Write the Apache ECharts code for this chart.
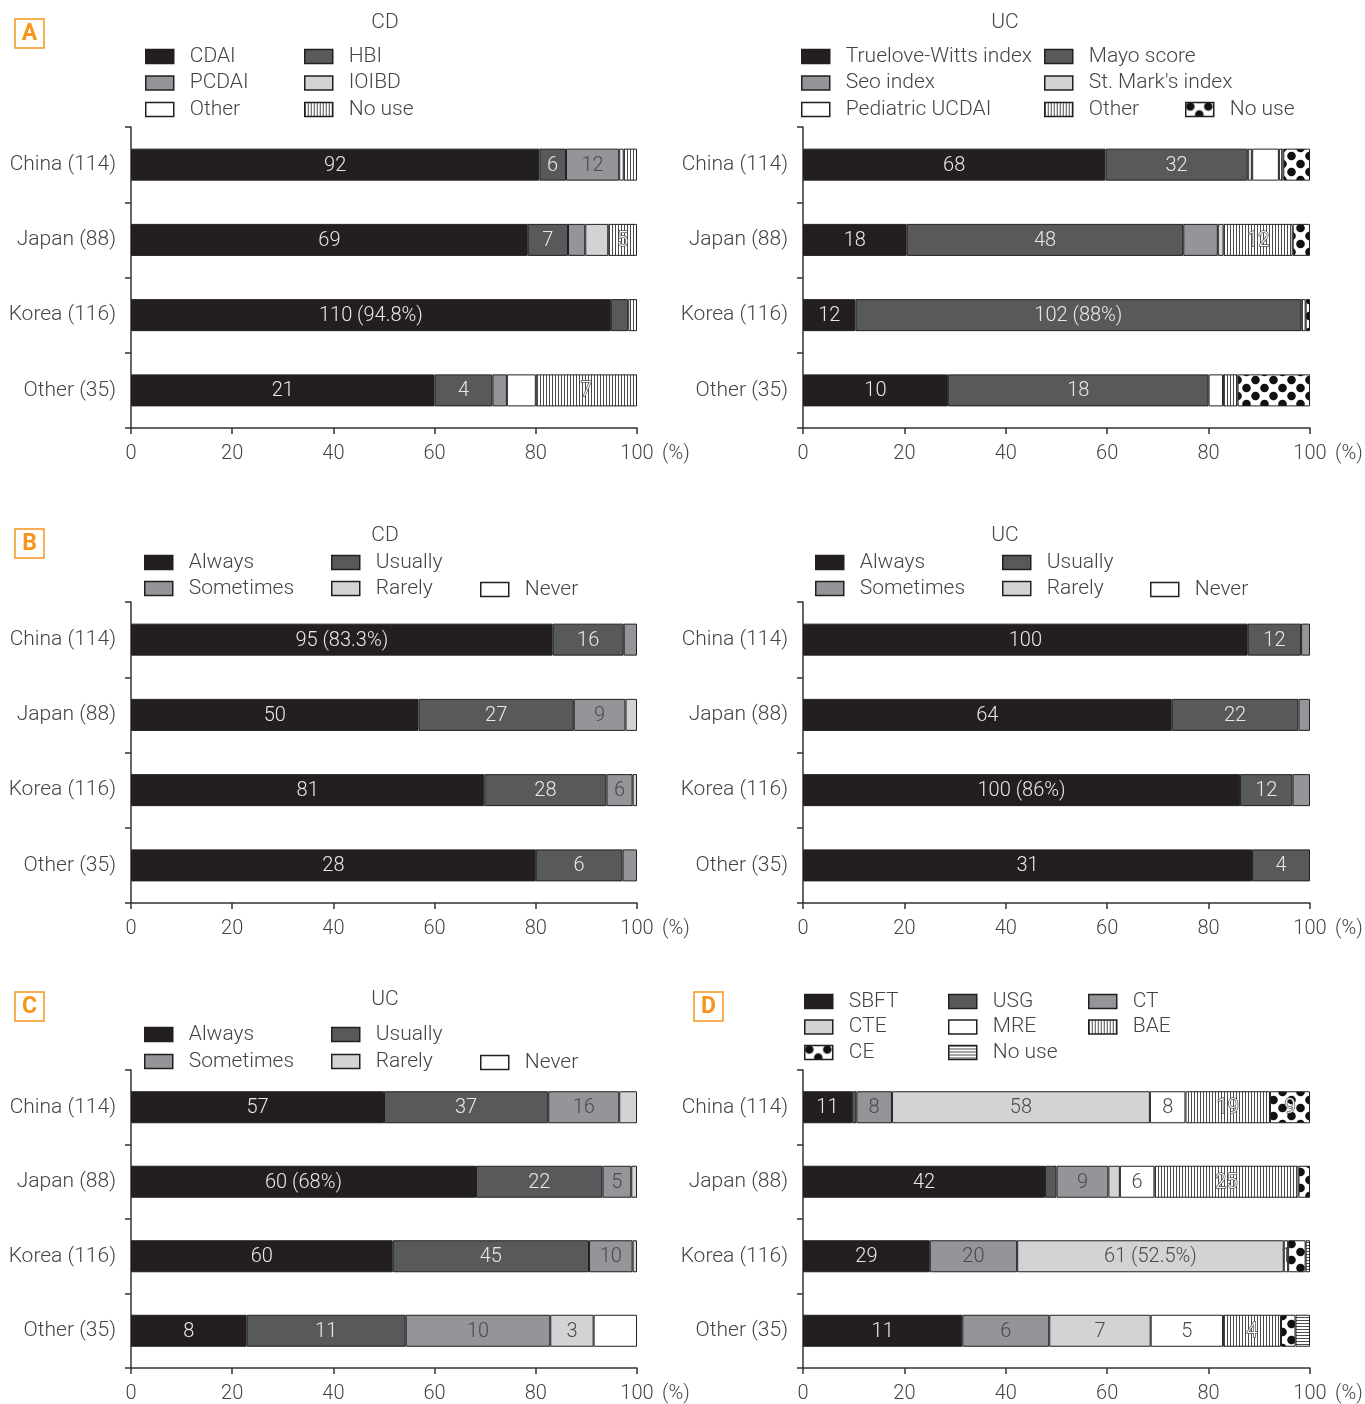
<!DOCTYPE html>
<html><head><meta charset="utf-8">
<script src="https://cdn.jsdelivr.net/npm/echarts@6/dist/echarts.min.js"></script>
<style>html,body{margin:0;padding:0;background:#fff;} .p{position:absolute;left:0;top:0;width:1365px;height:1404px;}</style>
</head><body>
<div id="c1" class="p"></div><div id="c2" class="p"></div><div id="c3" class="p"></div>
<div id="c4" class="p"></div><div id="c5" class="p"></div><div id="c6" class="p"></div>
<script>
// ---------- shared ----------
const categories = ['China (114)', 'Japan (88)', 'Korea (116)', 'Other (35)'];
const totals = [114, 88, 116, 35];
const xTicks = [0, 20, 40, 60, 80, 100];

// ---------- A: CD activity index ----------
const cdCDAI  = [92, 69, 110, 21];
const cdHBI   = [6, 7, 4, 4];
const cdPCDAI = [12, 3, 0, 1];
const cdIOIBD = [0, 4, 0, 0];
const cdOther = [1, 0, 0, 2];
const cdNoUse = [3, 5, 2, 7];
const cdCDAILabels  = ['92', '69', '110 (94.8%)', '21'];
const cdHBILabels   = ['6', '7', '', '4'];
const cdPCDAILabels = ['12', '', '', ''];
const cdNoUseLabels = ['', '5', '', '7'];

// ---------- A: UC activity index ----------
const ucTW     = [68, 18, 12, 10];
const ucMayo   = [32, 48, 102, 18];
const ucSeo    = [0, 6, 0, 0];
const ucStMark = [1, 1, 0, 0];
const ucPed    = [6, 0, 0, 1];
const ucOther  = [1, 12, 1, 1];
const ucNoUse  = [6, 3, 1, 5];
const ucTWLabels    = ['68', '18', '12', '10'];
const ucMayoLabels  = ['32', '48', '102 (88%)', '18'];
const ucOtherLabels = ['', '12', '', ''];

// ---------- B: CD frequency ----------
const bcdAlways    = [95, 50, 81, 28];
const bcdUsually   = [16, 27, 28, 6];
const bcdSometimes = [3, 9, 6, 1];
const bcdRarely    = [0, 2, 1, 0];
const bcdNever     = [0, 0, 0, 0];
const bcdAlwaysLabels    = ['95 (83.3%)', '50', '81', '28'];
const bcdUsuallyLabels   = ['16', '27', '28', '6'];
const bcdSometimesLabels = ['', '9', '6', ''];

// ---------- B: UC frequency ----------
const bucAlways    = [100, 64, 100, 31];
const bucUsually   = [12, 22, 12, 4];
const bucSometimes = [2, 2, 4, 0];
const bucRarely    = [0, 0, 0, 0];
const bucNever     = [0, 0, 0, 0];
const bucAlwaysLabels  = ['100', '64', '100 (86%)', '31'];
const bucUsuallyLabels = ['12', '22', '12', '4'];

// ---------- C: UC ----------
const cAlways    = [57, 60, 60, 8];
const cUsually   = [37, 22, 45, 11];
const cSometimes = [16, 5, 10, 10];
const cRarely    = [4, 1, 1, 3];
const cNever     = [0, 0, 0, 3];
const cAlwaysLabels    = ['57', '60 (68%)', '60', '8'];
const cUsuallyLabels   = ['37', '22', '45', '11'];
const cSometimesLabels = ['16', '5', '10', '10'];
const cRarelyLabels    = ['', '', '', '3'];

// ---------- D: small bowel imaging ----------
const dSBFT  = [11, 42, 29, 11];
const dUSG   = [1, 2, 0, 0];
const dCT    = [8, 9, 20, 6];
const dCTE   = [58, 2, 61, 7];
const dMRE   = [8, 6, 1, 5];
const dBAE   = [19, 25, 0, 4];
const dCE    = [9, 2, 4, 1];
const dNoUse = [0, 0, 1, 1];
const dSBFTLabels = ['11', '42', '29', '11'];
const dCTLabels   = ['8', '9', '20', '6'];
const dCTELabels  = ['58', '', '61 (52.5%)', '7'];
const dMRELabels  = ['8', '6', '1', '5'];
const dBAELabels  = ['19', '25', '', '4'];
const dCELabels   = ['9', '', '', ''];

// ---------- styles ----------
const FONT = 'Roboto, "Noto Sans", "DejaVu Sans", sans-serif';
const FW = 300;
const TXT = '#444';
const K = '#231f20', DK = '#58595b', MD = '#939598', LT = '#d1d3d4', WH = '#ffffff';

function pattern(type) {
  const c = document.createElement('canvas');
  let ctx;
  if (type === 'vline') {
    c.width = 3; c.height = 10; ctx = c.getContext('2d');
    ctx.fillStyle = '#fff'; ctx.fillRect(0, 0, 3, 10);
    ctx.fillStyle = '#4a4a4a'; ctx.fillRect(0, 0, 1, 10);
  } else if (type === 'hline') {
    c.width = 10; c.height = 3; ctx = c.getContext('2d');
    ctx.fillStyle = '#fff'; ctx.fillRect(0, 0, 10, 3);
    ctx.fillStyle = '#4a4a4a'; ctx.fillRect(0, 0, 10, 1);
  } else {
    c.width = 18; c.height = 16; ctx = c.getContext('2d');
    ctx.fillStyle = '#fff'; ctx.fillRect(0, 0, 18, 16);
    ctx.fillStyle = '#111';
    [[4.5, 4], [13.5, 12], [13.5, -4], [-4.5, 12], [22.5, 4], [4.5, 20]].forEach(p => {
      ctx.beginPath(); ctx.arc(p[0], p[1], 4.3, 0, Math.PI * 2); ctx.fill();
    });
  }
  return { image: c, repeat: 'repeat' };
}
const VL = pattern('vline'), HL = pattern('hline'), DOTS = pattern('dots');

const lightText = { color: '#e8e8e8' };
const darkText = { color: '#4a4a4a' };
const patText = { color: '#ffffff', textBorderColor: '#555', textBorderWidth: 1.5 };

function S(name, values, fill, text, labels) {
  return { name, values, fill, text, labels };
}

function makeChart(id, cfg) {
  const chart = echarts.init(document.getElementById(id), null, { renderer: 'canvas', width: 1365, height: 1404 });
  const series = cfg.series.map(s => ({
    type: 'bar', name: s.name, stack: 'total', barWidth: 32, animation: false,
    data: s.values.map((v, j) => v ? {
      value: v / totals[j] * 100,
      label: { show: !!(s.labels && s.labels[j]), formatter: (s.labels && s.labels[j]) || '' }
    } : '-'),
    itemStyle: { color: s.fill, borderColor: '#231f20', borderWidth: 1 },
    label: Object.assign({ position: 'inside', fontSize: 20, fontFamily: FONT, fontWeight: FW, textBorderWidth: 0, offset: [0, 1] }, s.text),
    emphasis: { disabled: true }
  }));
  const graphic = [
    { type: 'rect', shape: { x: cfg.box[0], y: cfg.box[1], width: 29, height: 29 },
      style: { fill: 'none', stroke: '#f7941d', lineWidth: 1.5 } },
    { type: 'text', x: cfg.box[0] + 14.5, y: cfg.box[1] + 15,
      style: { text: cfg.letter, fill: '#f7941d', font: 'bold 23px ' + FONT, align: 'center', verticalAlign: 'middle' } }
  ];
  if (cfg.title) graphic.push({ type: 'text', x: cfg.title[1], y: cfg.title[2],
      style: { text: cfg.title[0], fill: TXT, font: FW + ' 21px ' + FONT, align: 'center', verticalAlign: 'middle' } });
  chart.setOption({
    animation: false,
    textStyle: { fontFamily: FONT, fontWeight: FW },
    grid: { left: cfg.grid[0], top: cfg.grid[1], width: cfg.grid[2], height: 301, containLabel: false },
    xAxis: {
      type: 'value', min: 0, max: 100, interval: 20,
      axisLine: { show: true, lineStyle: { color: '#333', width: 1.5 } },
      axisTick: { show: true, length: 6, lineStyle: { color: '#333', width: 1.5 } },
      axisLabel: { fontSize: 20, color: TXT, margin: 16, fontFamily: FONT, fontWeight: FW,
        formatter: v => xTicks.indexOf(v) >= 0 ? String(v) : '' },
      splitLine: { show: false },
      name: '(%)', nameLocation: 'end', nameGap: 25,
      nameTextStyle: { fontSize: 20, color: TXT, fontFamily: FONT, fontWeight: FW, verticalAlign: 'top', padding: [16, 0, 0, 0] }
    },
    yAxis: {
      type: 'category', data: categories, inverse: true,
      axisLine: { show: true, lineStyle: { color: '#333', width: 1.5 } },
      axisTick: { show: true, length: 6, lineStyle: { color: '#333', width: 1.5 } },
      axisLabel: { fontSize: 21, color: TXT, margin: 15, fontFamily: FONT, fontWeight: FW }
    },
    legend: cfg.legends.map(l => ({
      left: l[0], top: l[1], data: l[2], orient: 'vertical', padding: 0,
      itemWidth: 28, itemHeight: 14, itemGap: l[3] || 5.5, icon: 'rect', selectedMode: false,
      textStyle: { fontSize: 21, color: TXT, fontFamily: FONT, fontWeight: FW, padding: [0, 0, 0, 11], lineHeight: 20 },
      itemStyle: { borderColor: '#231f20', borderWidth: 1.5 }
    })),
    graphic: graphic,
    series: series
  });
}

// Panel A - CD
makeChart('c1', {
  letter: 'A', box: [15, 19], title: ['CD', 385, 23], grid: [131, 127, 506],
  legends: [[145, 46, ['CDAI', 'PCDAI', 'Other']], [304, 46, ['HBI', 'IOIBD', 'No use']]],
  series: [
    S('CDAI', cdCDAI, K, lightText, cdCDAILabels),
    S('HBI', cdHBI, DK, lightText, cdHBILabels),
    S('PCDAI', cdPCDAI, MD, darkText, cdPCDAILabels),
    S('IOIBD', cdIOIBD, LT, darkText, null),
    S('Other', cdOther, WH, darkText, null),
    S('No use', cdNoUse, VL, patText, cdNoUseLabels)
  ]
});
// Panel A - UC
makeChart('c2', {
  letter: '', box: [-100, -100], title: ['UC', 1005, 23], grid: [803, 127, 507],
  legends: [[801, 46, ['Truelove-Witts index', 'Seo index', 'Pediatric UCDAI']],
            [1044, 46, ['Mayo score', "St. Mark's index", 'Other']],
            [1185, 99, ['No use']]],
  series: [
    S('Truelove-Witts index', ucTW, K, lightText, ucTWLabels),
    S('Mayo score', ucMayo, DK, lightText, ucMayoLabels),
    S('Seo index', ucSeo, MD, darkText, null),
    S("St. Mark's index", ucStMark, LT, darkText, null),
    S('Pediatric UCDAI', ucPed, WH, darkText, null),
    S('Other', ucOther, VL, patText, ucOtherLabels),
    S('No use', ucNoUse, DOTS, patText, null)
  ]
});
// Panel B - CD
makeChart('c3', {
  letter: 'B', box: [15, 529], title: ['CD', 385, 536], grid: [131, 602, 506],
  legends: [[144, 552, ['Always', 'Sometimes'], 5], [331, 552, ['Usually', 'Rarely'], 5], [480, 579, ['Never']]],
  series: [
    S('Always', bcdAlways, K, lightText, bcdAlwaysLabels),
    S('Usually', bcdUsually, DK, lightText, bcdUsuallyLabels),
    S('Sometimes', bcdSometimes, MD, darkText, bcdSometimesLabels),
    S('Rarely', bcdRarely, LT, darkText, null),
    S('Never', bcdNever, WH, darkText, null)
  ]
});
// Panel B - UC
makeChart('c4', {
  letter: '', box: [-100, -100], title: ['UC', 1005, 536], grid: [803, 602, 507],
  legends: [[815, 552, ['Always', 'Sometimes'], 5], [1002, 552, ['Usually', 'Rarely'], 5], [1150, 579, ['Never']]],
  series: [
    S('Always', bucAlways, K, lightText, bucAlwaysLabels),
    S('Usually', bucUsually, DK, lightText, bucUsuallyLabels),
    S('Sometimes', bucSometimes, MD, darkText, null),
    S('Rarely', bucRarely, LT, darkText, null),
    S('Never', bucNever, WH, darkText, null)
  ]
});
// Panel C - UC
makeChart('c5', {
  letter: 'C', box: [15, 992], title: ['UC', 385, 1000], grid: [131, 1070, 506],
  legends: [[144, 1024, ['Always', 'Sometimes'], 6], [331, 1024, ['Usually', 'Rarely'], 6], [480, 1052, ['Never']]],
  series: [
    S('Always', cAlways, K, lightText, cAlwaysLabels),
    S('Usually', cUsually, DK, lightText, cUsuallyLabels),
    S('Sometimes', cSometimes, MD, darkText, cSometimesLabels),
    S('Rarely', cRarely, LT, darkText, cRarelyLabels),
    S('Never', cNever, WH, darkText, null)
  ]
});
// Panel D
makeChart('c6', {
  letter: 'D', box: [694, 992], title: null, grid: [803, 1070, 507],
  legends: [[804, 991, ['SBFT', 'CTE', 'CE'], 4.5], [948, 991, ['USG', 'MRE', 'No use'], 4.5], [1088, 991, ['CT', 'BAE'], 4.5]],
  series: [
    S('SBFT', dSBFT, K, lightText, dSBFTLabels),
    S('USG', dUSG, DK, lightText, null),
    S('CT', dCT, MD, darkText, dCTLabels),
    S('CTE', dCTE, LT, darkText, dCTELabels),
    S('MRE', dMRE, WH, darkText, dMRELabels),
    S('BAE', dBAE, VL, patText, dBAELabels),
    S('CE', dCE, DOTS, patText, dCELabels),
    S('No use', dNoUse, HL, patText, null)
  ]
});
</script>
</body></html>
